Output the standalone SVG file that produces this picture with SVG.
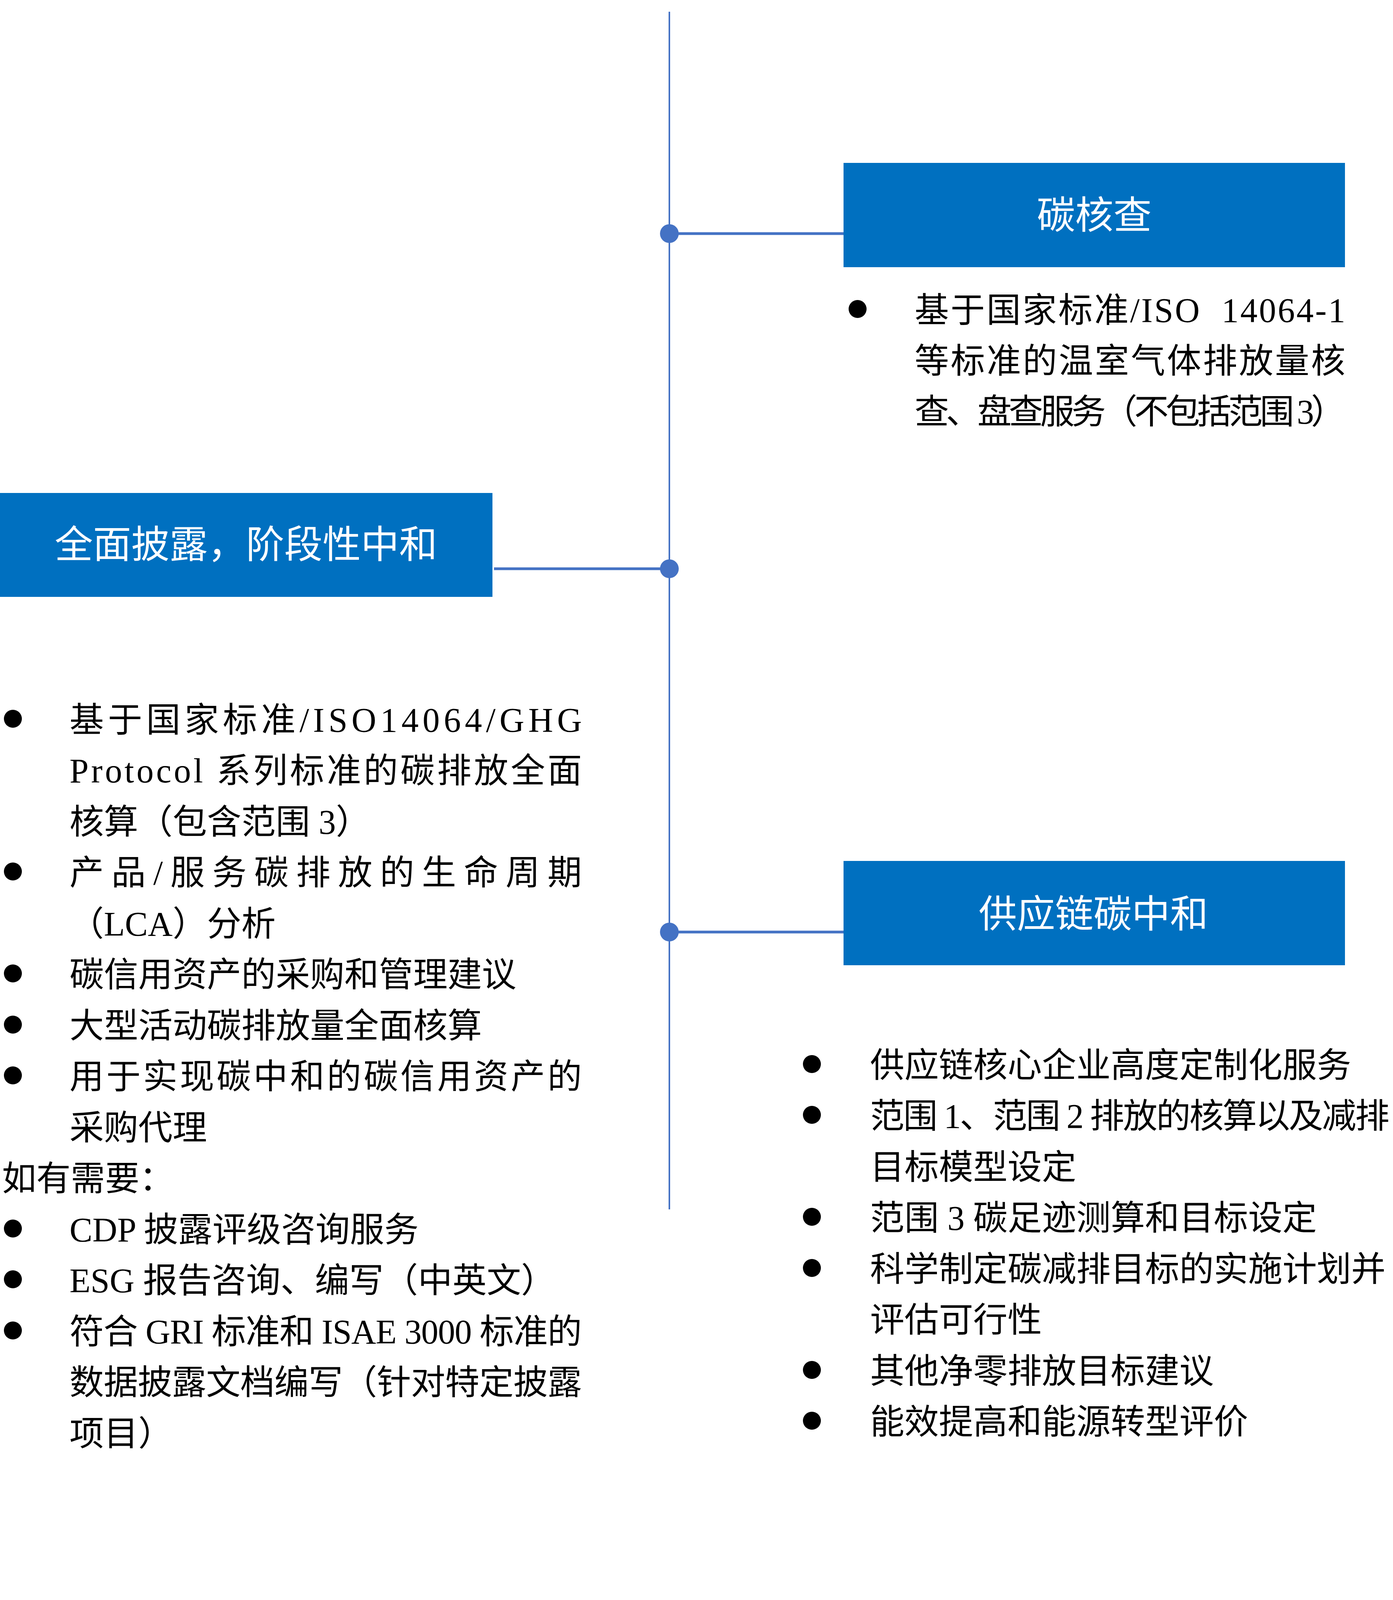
<svg xmlns="http://www.w3.org/2000/svg" width="3567" height="4161" viewBox="0 0 3567 4161">
<style>
.box{fill:#0070C0}
.title{font-family:"Liberation Serif","Noto Sans CJK SC",serif;font-size:98px;fill:#FFFFFF;text-anchor:middle}
.body{font-family:"Liberation Serif","Noto Sans CJK SC",serif;font-size:88px;fill:#000000}
.bullet{fill:#000000}
.spine{stroke:#4472C4;stroke-width:4;fill:none}
.conn{stroke:#4472C4;stroke-width:7;fill:none}
.dot{fill:#4472C4}
</style>
<rect width="3567" height="4161" fill="#FFFFFF"/>
<g id="connectors">
  <line class="spine" x1="1714" y1="30" x2="1714" y2="3096"/>
  <line class="conn" x1="1714" y1="598" x2="2160" y2="598"/>
  <line class="conn" x1="1265" y1="1456" x2="1714" y2="1456"/>
  <line class="conn" x1="1714" y1="2386" x2="2160" y2="2386"/>
  <circle class="dot" cx="1714" cy="598" r="24"/>
  <circle class="dot" cx="1714" cy="1456" r="24"/>
  <circle class="dot" cx="1714" cy="2386" r="24"/>
</g>
<g id="node-carbon-verification">
  <rect class="box" x="2160" y="417" width="1284" height="267"/>
  <text class="title" x="2802" y="585">碳核查</text>
  <circle class="bullet" cx="2196" cy="791" r="23"/>
  <text class="body" x="2342" y="824" textLength="1103" lengthAdjust="spacing" xml:space="preserve">基于国家标准/ISO  14064-1</text>
  <text class="body" x="2342" y="954" textLength="1103" lengthAdjust="spacing">等标准的温室气体排放量核</text>
  <text class="body" x="2342" y="1084" textLength="1103" lengthAdjust="spacing">查、盘查服务（不包括范围 3）</text>
</g>
<g id="node-full-disclosure">
  <rect class="box" x="0" y="1262" width="1261" height="266"/>
  <text class="title" x="630" y="1428">全面披露，阶段性中和</text>
  <circle class="bullet" cx="33" cy="1840" r="23"/>
  <text class="body" x="178" y="1873" textLength="1312" lengthAdjust="spacing">基于国家标准/ISO14064/GHG</text>
  <text class="body" x="178" y="2003" textLength="1312" lengthAdjust="spacing">Protocol 系列标准的碳排放全面</text>
  <text class="body" x="178" y="2134">核算（包含范围 3）</text>
  <circle class="bullet" cx="33" cy="2231" r="23"/>
  <text class="body" x="178" y="2264" textLength="1312" lengthAdjust="spacing">产品/服务碳排放的生命周期</text>
  <text class="body" x="178" y="2395">（LCA）分析</text>
  <circle class="bullet" cx="33" cy="2492" r="23"/>
  <text class="body" x="178" y="2525">碳信用资产的采购和管理建议</text>
  <circle class="bullet" cx="33" cy="2623" r="23"/>
  <text class="body" x="178" y="2656">大型活动碳排放量全面核算</text>
  <circle class="bullet" cx="33" cy="2753" r="23"/>
  <text class="body" x="178" y="2786" textLength="1312" lengthAdjust="spacing">用于实现碳中和的碳信用资产的</text>
  <text class="body" x="178" y="2917">采购代理</text>
  <text class="body" x="5" y="3047">如有需要：</text>
  <circle class="bullet" cx="33" cy="3145" r="23"/>
  <text class="body" x="178" y="3178">CDP 披露评级咨询服务</text>
  <circle class="bullet" cx="33" cy="3275" r="23"/>
  <text class="body" x="178" y="3308">ESG 报告咨询、编写（中英文）</text>
  <circle class="bullet" cx="33" cy="3406" r="23"/>
  <text class="body" x="178" y="3439" textLength="1312" lengthAdjust="spacing">符合 GRI 标准和 ISAE 3000 标准的</text>
  <text class="body" x="178" y="3569" textLength="1312" lengthAdjust="spacing">数据披露文档编写（针对特定披露</text>
  <text class="body" x="178" y="3700">项目）</text>
</g>
<g id="node-supply-chain">
  <rect class="box" x="2160" y="2204" width="1284" height="267"/>
  <text class="title" x="2800" y="2374">供应链碳中和</text>
  <circle class="bullet" cx="2079" cy="2724" r="23"/>
  <text class="body" x="2228" y="2757">供应链核心企业高度定制化服务</text>
  <circle class="bullet" cx="2079" cy="2854" r="23"/>
  <text class="body" x="2228" y="2887" textLength="1330" lengthAdjust="spacing">范围 1、范围 2 排放的核算以及减排</text>
  <text class="body" x="2228" y="3018">目标模型设定</text>
  <circle class="bullet" cx="2079" cy="3115" r="23"/>
  <text class="body" x="2228" y="3148">范围 3 碳足迹测算和目标设定</text>
  <circle class="bullet" cx="2079" cy="3246" r="23"/>
  <text class="body" x="2228" y="3279">科学制定碳减排目标的实施计划并</text>
  <text class="body" x="2228" y="3409">评估可行性</text>
  <circle class="bullet" cx="2079" cy="3507" r="23"/>
  <text class="body" x="2228" y="3540">其他净零排放目标建议</text>
  <circle class="bullet" cx="2079" cy="3637" r="23"/>
  <text class="body" x="2228" y="3670">能效提高和能源转型评价</text>
</g>
</svg>
